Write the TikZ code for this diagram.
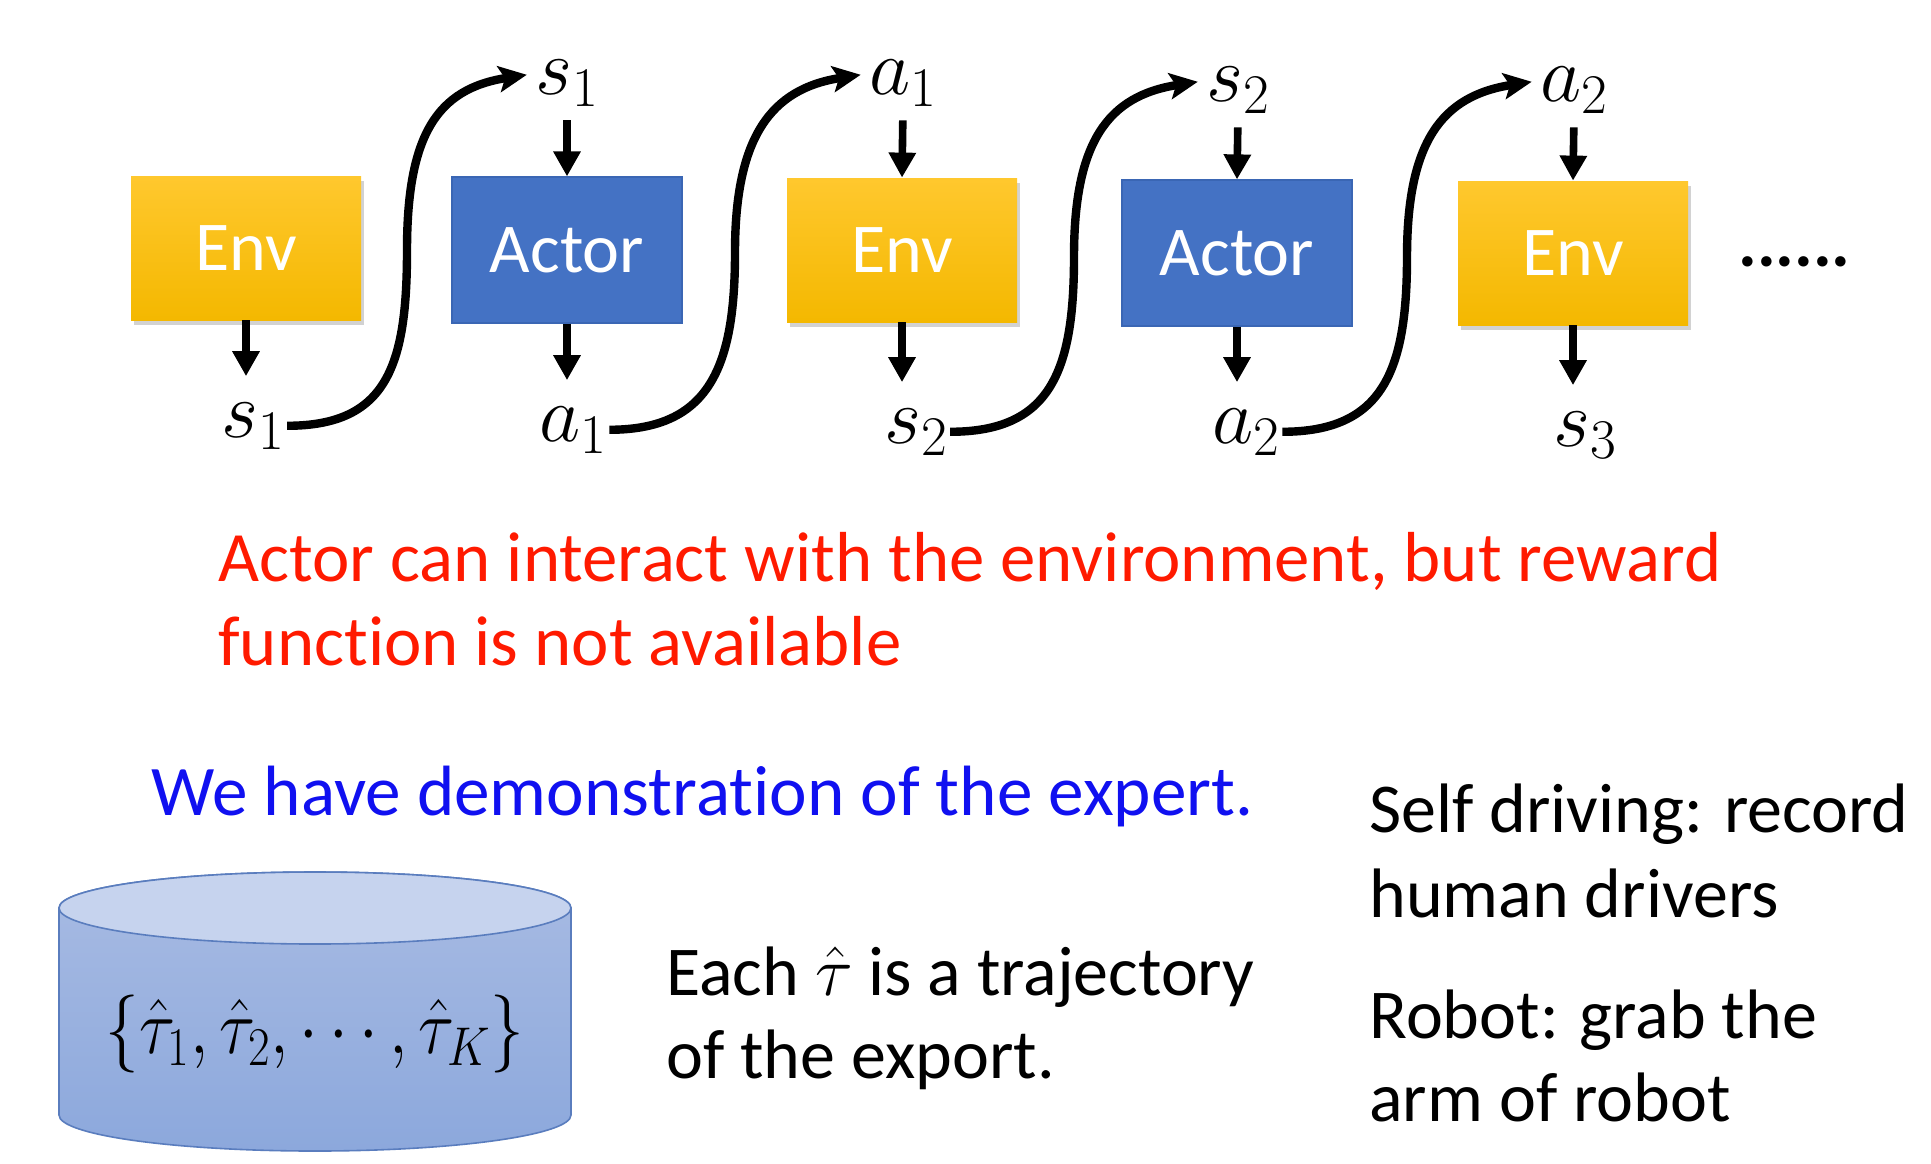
\RequirePackage{fix-cm}
\documentclass[tikz,border=0pt]{standalone}
\usepackage{graphicx}
\usepackage{fontspec}
\setmainfont{Carlito}[Ligatures=NoCommon]
\usetikzlibrary{arrows.meta,shadows,calc}
\definecolor{envtop}{HTML}{FFC82E}
\definecolor{envbot}{HTML}{F4B800}
\definecolor{actorblue}{HTML}{4472C4}
\definecolor{actoredge}{HTML}{3A66B4}
\definecolor{redtxt}{HTML}{FF1A00}
\definecolor{bluetxt}{HTML}{1010F0}
\definecolor{cylbtop}{HTML}{A8BBE3}
\definecolor{cylbbot}{HTML}{8CA8DC}
\definecolor{cyltop}{HTML}{C6D3EE}
\definecolor{cyledge}{HTML}{5A7DBE}
\begin{document}
\begin{tikzpicture}[x=0.5pt,y=-0.5pt,
  envbox/.style={rectangle, minimum width=115pt, minimum height=72pt, top color=envtop, bottom color=envbot, text=white, font=\fontsize{35}{42}\selectfont, drop shadow={opacity=0.35, shadow xshift=1.5pt, shadow yshift=-2.5pt}},
  actorbox/.style={rectangle, minimum width=115pt, minimum height=73pt, fill=actorblue, draw=actoredge, line width=0.6pt, text=white, font=\fontsize{35}{42}\selectfont},
  lbl/.style={inner sep=0pt, anchor=base, font=\fontsize{40}{48}\selectfont},
  down/.style={-{Triangle[length=12.5pt,width=13pt]}, line width=3.8pt},
  curvy/.style={-{Stealth[length=14pt,width=13pt,inset=3pt]}, line width=4.2pt},
  txt/.style={inner sep=0pt, anchor=base west, font=\fontsize{35}{42}\selectfont},
]
\useasboundingbox (0,0) rectangle (1931,1163);
\fill[white] (0,0) rectangle (1931,1163);

% boxes
\node[envbox]   (e1) at (246,248) {Env};
\node[actorbox] (p1) at (567,250) {Actor};
\node[envbox]   (e2) at (902,250) {Env};
\node[actorbox] (p2) at (1237,253) {Actor};
\node[envbox]   (e3) at (1573,253) {Env};
\node[txt, font=\fontsize{35}{42}\selectfont\bfseries] (dots) at (1738,266) {......};

% top labels
\node[lbl] (t1) at (567,94)  {$s_1$};
\node[lbl] (t2) at (903,94)  {$a_1$};
\node[lbl] (t3) at (1238,101) {$s_2$};
\node[lbl] (t4) at (1574,101) {$a_2$};

% bottom labels
\node[lbl] (b1) at (253,437) {$s_1$};
\node[lbl] (b2) at (573,441) {$a_1$};
\node[lbl] (b3) at (916,443) {$s_2$};
\node[lbl] (b4) at (1246,443) {$a_2$};
\node[lbl] (b5) at (1585,446) {$s_3$};

% vertical arrows
\draw[down, shorten <=7pt] (t1.south) -- (p1.north);
\draw[down, shorten <=7pt] (t2.south) -- (e2.north);
\draw[down, shorten <=7pt] (t3.south) -- (p2.north);
\draw[down, shorten <=7pt] (t4.south) -- (e3.north);
\draw[down, shorten >=13pt] (e1.south) -- (e1.south |- b1.north);
\draw[down, shorten >=13pt] (p1.south) -- (p1.south |- b2.north);
\draw[down, shorten >=13pt] (e2.south) -- (e2.south |- b3.north);
\draw[down, shorten >=13pt] (p2.south) -- (p2.south |- b4.north);
\draw[down, shorten >=13pt] (e3.south) -- (e3.south |- b5.north);

% curved arrows
\foreach \i in {1,2,3,4}{
  \coordinate (s\i) at ([xshift=1pt]b\i.east);
  \coordinate (f\i) at ([xshift=-4pt,yshift=4pt]t\i.west);
  \coordinate (m\i) at ($(s\i)!0.5!(f\i)$);
  \draw[curvy] (s\i) .. controls +(100,0) and +(0,115) .. (m\i)
                     .. controls +(0,-115) and +(-90,14) .. (f\i);
}

% texts
\node[txt, text=redtxt, font=\fontsize{35.4}{42}\selectfont] (r1) at (218,581) {Actor can interact with the environment, but reward};
\node[txt, text=redtxt, font=\fontsize{35.4}{42}\selectfont] (r2) at (218,665) {function is not available};
\node[txt, text=bluetxt, font=\fontsize{35.6}{42}\selectfont] (w1) at (151,815) {We have demonstration of the expert.};
\node[txt] (x1) at (1369,832) {Self driving: record};
\node[txt] (x2) at (1369,917) {human drivers};
\node[txt] (x3) at (1369,1038) {Robot: grab the};
\node[txt] (x4) at (1369,1121) {arm of robot};
\node[txt] (y1) at (666,995) {Each $\hat{\tau}$ is a trajectory};
\node[txt] (y2) at (666,1078) {of the export.};

% cylinder
\path[top color=cylbtop, bottom color=cylbbot, draw=cyledge, line width=0.8pt]
  (59,908) -- (59,1115) arc[start angle=180, end angle=360, x radius=128pt, y radius=18pt]
  -- (571,908) arc[start angle=0, end angle=180, x radius=128pt, y radius=18pt] -- cycle;
\path[fill=cyltop, draw=cyledge, line width=0.8pt] (315,908) ellipse [x radius=128pt, y radius=18pt];
\node[inner sep=0pt, font=\fontsize{39}{46}\selectfont] (db) at (315,1034) {\scalebox{0.86}[1]{$\{\hat{\tau}_1,\hat{\tau}_2,\cdots,\hat{\tau}_K\}$}};
\end{tikzpicture}
\end{document}
